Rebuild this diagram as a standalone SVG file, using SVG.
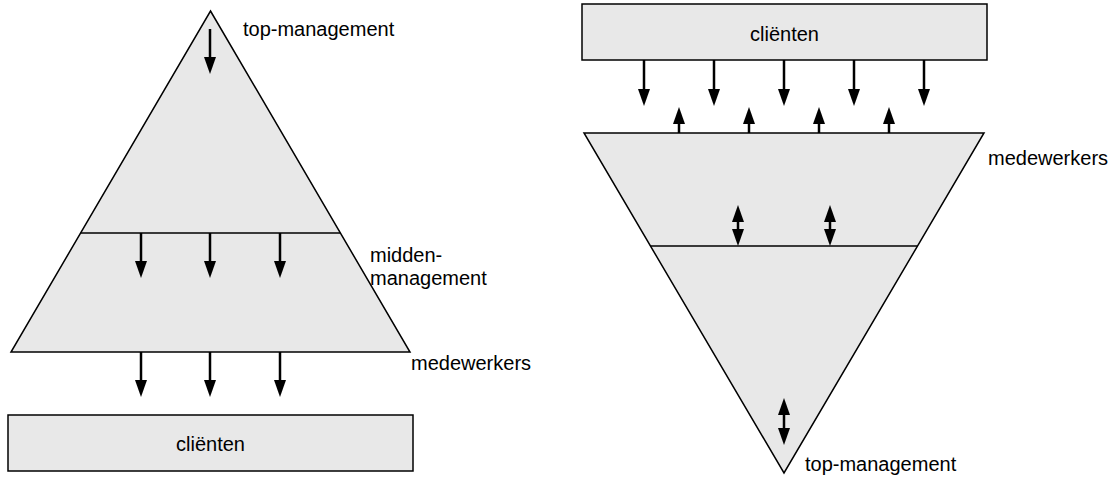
<svg xmlns="http://www.w3.org/2000/svg" width="1113" height="477" viewBox="0 0 1113 477">
<style>
.shape{fill:#e8e8e8;stroke:#000;stroke-width:1.5;stroke-linejoin:miter}
.sep{stroke:#000;stroke-width:1.5;fill:none}
.lbl{font-family:"Liberation Sans",Arial,sans-serif;font-size:20px;fill:#000}
.arr{stroke:#000;stroke-width:2.5;fill:none;marker-end:url(#ah)}
.dbl{stroke:#000;stroke-width:2.5;fill:none;marker-start:url(#ah);marker-end:url(#ah)}
</style>
<defs>
<marker id="ah" markerUnits="userSpaceOnUse" markerWidth="17" markerHeight="12" refX="2" refY="6" orient="auto-start-reverse">
<path d="M0,0 L17,6 L0,12 z" fill="#000"/>
</marker>
</defs>
<g id="pyramid">
<polygon class="shape" points="210.5,11 410,352 11,352"/>
<line class="sep" x1="80.6" y1="233" x2="340.4" y2="233"/>
<text class="lbl" x="243" y="36">top-management</text>
<text class="lbl" x="370" y="262">midden-</text>
<text class="lbl" x="370" y="285">management</text>
<text class="lbl" x="411" y="370">medewerkers</text>
</g>
<g id="clients-left">
<rect class="shape" x="8" y="415" width="405" height="56"/>
<text class="lbl" x="210.5" y="451" text-anchor="middle">cliënten</text>
</g>
<g id="clients-right">
<rect class="shape" x="582" y="4" width="405" height="56"/>
<text class="lbl" x="784.5" y="41" text-anchor="middle">cliënten</text>
</g>
<g id="inverted-pyramid">
<polygon class="shape" points="584,133 984,133 784,473"/>
<line class="sep" x1="650" y1="246" x2="918" y2="246"/>
<text class="lbl" x="988" y="165">medewerkers</text>
<text class="lbl" x="805" y="471">top-management</text>
</g>
<g id="connectors">
<line class="arr" x1="210" y1="29" x2="210" y2="59"/>
<line class="arr" x1="141" y1="233" x2="141" y2="263"/>
<line class="arr" x1="210" y1="233" x2="210" y2="263"/>
<line class="arr" x1="280" y1="233" x2="280" y2="263"/>
<line class="arr" x1="141" y1="352" x2="141" y2="382"/>
<line class="arr" x1="210" y1="352" x2="210" y2="382"/>
<line class="arr" x1="280" y1="352" x2="280" y2="382"/>
<line class="arr" x1="644" y1="60" x2="644" y2="91"/>
<line class="arr" x1="714" y1="60" x2="714" y2="91"/>
<line class="arr" x1="784" y1="60" x2="784" y2="91"/>
<line class="arr" x1="854" y1="60" x2="854" y2="91"/>
<line class="arr" x1="924" y1="60" x2="924" y2="91"/>
<line class="arr" x1="679" y1="133" x2="679" y2="122"/>
<line class="arr" x1="749" y1="133" x2="749" y2="122"/>
<line class="arr" x1="819" y1="133" x2="819" y2="122"/>
<line class="arr" x1="889" y1="133" x2="889" y2="122"/>
<line class="dbl" x1="738" y1="220" x2="738" y2="231"/>
<line class="dbl" x1="830" y1="220" x2="830" y2="231"/>
<line class="dbl" x1="784" y1="413" x2="784" y2="430"/>
</g>
</svg>
